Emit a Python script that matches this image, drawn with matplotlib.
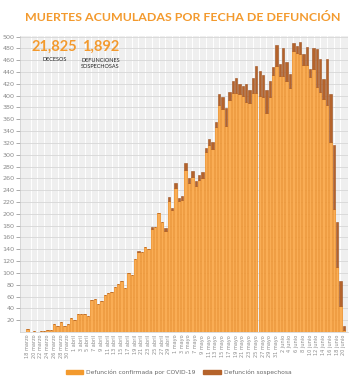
import matplotlib
matplotlib.use("Agg")
import matplotlib.pyplot as plt
from matplotlib.patches import Patch
import pandas as pd

# daily deaths, 18 marzo .. 20 junio
confirmados = [
    5, 0, 1, 0, 2, 2, 3, 3,
    13, 11, 17, 11, 14, 24, 21, 30, 31, 30, 28, 54, 56, 47, 52, 62, 66, 67,
    76, 82, 87, 74, 100, 97, 124, 135, 136, 144, 140, 174, 178, 202, 187, 171, 222,
    206, 244,
    222, 223, 275, 253, 262, 247, 258, 261, 304, 317, 310, 347,
    384, 377, 349, 392, 404, 404, 403, 400, 389, 388, 405, 405, 400, 398, 370,
    397, 435, 451, 434, 434, 424, 413, 476, 473, 470, 452, 452, 431, 445, 414,
    406, 395, 384, 322, 208, 110, 44, 3,
]
sospechosos = [
    0, 0, 0, 0, 0, 0, 0, 0,
    0, 0, 0, 0, 0, 0, 0, 0, 0, 0, 0, 0, 0, 0, 0, 0, 0, 0,
    0, 0, 0, 0, 0, 0, 0, 2, 0, 0, 0, 3, 0, 0, 0, 5, 6,
    4, 8,
    5, 8, 11, 8, 10, 8, 8, 10, 8, 10, 12, 8,
    18, 21, 30, 14, 20, 26, 17, 17, 31, 22, 25, 46, 41, 37, 39,
    28, 14, 35, 19, 47, 33, 24, 13, 11, 21, 18, 31, 14, 36, 65,
    56, 33, 78, 81, 109, 77, 43, 7,
]
fechas = pd.date_range("2020-03-18", "2020-06-20")
meses = {3: "marzo", 4: "abril", 5: "mayo", 6: "junio"}
total_decesos = "21,825"
total_sospechosas = "1,892"

naranja = "#f39a2e"
cafe = "#b5632b"
gris = "#8a8a8a"

fig = plt.figure(figsize=(3.5, 3.87), dpi=100)
ax = fig.add_axes([0.057, 0.142, 0.937, 0.765])
ax.set_facecolor("#efefef")

x = list(range(len(fechas)))
ax.bar(x, confirmados, width=0.7, color="#f9ad55", edgecolor="#ee8a1c",
       linewidth=0.5, zorder=3)
ax.bar(x, sospechosos, width=0.7, bottom=confirmados, color=cafe,
       edgecolor="#9c5020", linewidth=0.4, zorder=3)

ax.set_xlim(-2.2, len(fechas) + 0.2)
ax.set_ylim(0, 501)
ax.set_yticks(range(20, 501, 20))
ax.tick_params(axis="y", labelsize=4.6, colors=gris, length=3, width=0.5, pad=1)
ax.set_xticks(x[::2])
ax.set_xticklabels([f"{d.day} {meses[d.month]}" for d in fechas[::2]],
                   rotation=90, fontsize=3.6, color=gris)
ax.tick_params(axis="x", length=0, pad=2)
ax.set_xticks(x, minor=True)
ax.tick_params(axis="x", which="minor", length=0)
ax.grid(axis="y", color="#d6d6d6", linewidth=0.6, zorder=1)
ax.grid(axis="x", which="minor", color="white", linewidth=0.7, zorder=0)
for s in ["top", "right"]:
    ax.spines[s].set_visible(False)
ax.spines["left"].set_color("#cccccc")
ax.spines["bottom"].set_color("#cccccc")
ax.spines["left"].set_linewidth(0.5)
ax.spines["bottom"].set_linewidth(0.5)

fig.text(0.523, 0.955, "MUERTES ACUMULADAS POR FECHA DE DEFUNCIÓN",
         ha="center", va="center", fontsize=8.9, fontweight="bold",
         color=naranja, family=["Lato", "DejaVu Sans"])

fig.text(0.155, 0.880, total_decesos, ha="center", va="center", fontsize=10.5,
         fontweight="bold", color=naranja, family=["Lato", "DejaVu Sans"])
fig.text(0.155, 0.845, "DECESOS", ha="center", va="center", fontsize=4.0,
         color="#222222", family=["Lato", "DejaVu Sans"])
fig.text(0.287, 0.880, total_sospechosas, ha="center", va="center", fontsize=10.5,
         fontweight="bold", color=naranja, family=["Lato", "DejaVu Sans"])
fig.text(0.287, 0.835, "DEFUNCIONES\nSOSPECHOSAS", ha="center", va="center",
         fontsize=4.0, color="#222222", linespacing=1.3,
         family=["Lato", "DejaVu Sans"])

handles = [Patch(color=naranja, label="Defunción confirmada por COVID-19"),
           Patch(color=cafe, label="Defunción sospechosa")]
leg = fig.legend(handles=handles, loc="center", bbox_to_anchor=(0.51, 0.038),
                 ncol=2, frameon=False, fontsize=4.3, handlelength=3.0,
                 handleheight=0.9, columnspacing=1.2, handletextpad=0.5)
for t in leg.get_texts():
    t.set_color("#666666")

fig.savefig("out.png", dpi=100)
